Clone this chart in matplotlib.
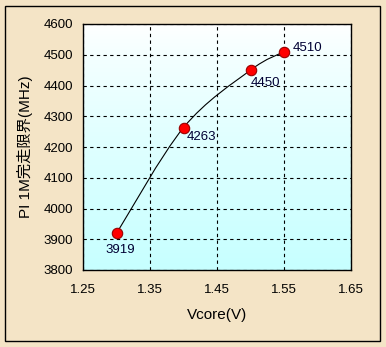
import matplotlib
matplotlib.use("Agg")
import matplotlib.pyplot as plt
import numpy as np
from matplotlib.path import Path
from matplotlib.patches import PathPatch, Rectangle

plt.rcParams['font.family'] = ['Liberation Sans', 'Noto Sans CJK JP', 'DejaVu Sans']

vcore = [1.30, 1.40, 1.50, 1.55]
mhz = [3919, 4263, 4450, 4510]
labels = ['3919', '4263', '4450', '4510']
label_offsets = [(3, -12), (13, -7), (11, -9), (17, 3)]

fig = plt.figure(figsize=(3.86, 3.47), dpi=100)
fig.patch.set_facecolor('#F4E4C6')
fig.patches.append(Rectangle((5 / 386, 6 / 347), 375 / 386, 335 / 347,
                             transform=fig.transFigure, fill=False,
                             edgecolor='black', linewidth=1.0))

ax = fig.add_axes([83 / 386, 1 - 270 / 347, 268 / 386, 246 / 347])

# gradient background of the plot area
grad = np.linspace(0, 1, 256).reshape(-1, 1) ** 0.8
top = np.array([1.0, 1.0, 1.0])
bot = np.array([0.78, 1.0, 1.0])
img = top + (bot - top) * grad[:, :, None]
ax.imshow(img, extent=[0, 1, 0, 1], transform=ax.transAxes, aspect='auto', zorder=0)

ax.set_xlim(1.25, 1.65)
ax.set_ylim(3800, 4600)
ax.set_xticks([1.25, 1.35, 1.45, 1.55, 1.65])
ax.set_yticks(np.arange(3800, 4601, 100))
ax.grid(True, color='black', linestyle=(0, (3, 3)), linewidth=0.8)
ax.set_axisbelow(True)

# smoothed line (Catmull-Rom -> Bezier through data points)
pts = np.column_stack([vcore, mhz]).astype(float)
ext = np.vstack([pts[0], pts, pts[-1]])
verts = [tuple(pts[0])]
codes = [Path.MOVETO]
for i in range(1, len(ext) - 2):
    p0, p1, p2, p3 = ext[i - 1], ext[i], ext[i + 1], ext[i + 2]
    c1 = p1 + (p2 - p0) / 6
    c2 = p2 - (p3 - p1) / 6
    verts += [tuple(c1), tuple(c2), tuple(p2)]
    codes += [Path.CURVE4] * 3
ax.add_patch(PathPatch(Path(verts, codes), fill=False, edgecolor='black',
                       linewidth=0.8, zorder=3))

ax.plot(vcore, mhz, linestyle='none', marker='o', markersize=7.5,
        markerfacecolor='#FF0000', markeredgecolor='#990000',
        markeredgewidth=0.8, zorder=4)

for x, y, t, off in zip(vcore, mhz, labels, label_offsets):
    ax.annotate(t, (x, y), xytext=off, textcoords='offset points',
                ha='center', va='center', fontsize=9.5, color='#000033')

for s in ax.spines.values():
    s.set_color('black')
    s.set_linewidth(1.0)
ax.tick_params(length=0, labelsize=9.5, pad=7, colors='black')
ax.tick_params(axis='x', pad=10)

ax.set_xlabel('Vcore(V)', fontsize=11, labelpad=9)
ax.set_ylabel('PI 1M完走限界(MHz)', fontsize=11, labelpad=8)

fig.savefig('out.png', dpi=100, facecolor=fig.get_facecolor())
